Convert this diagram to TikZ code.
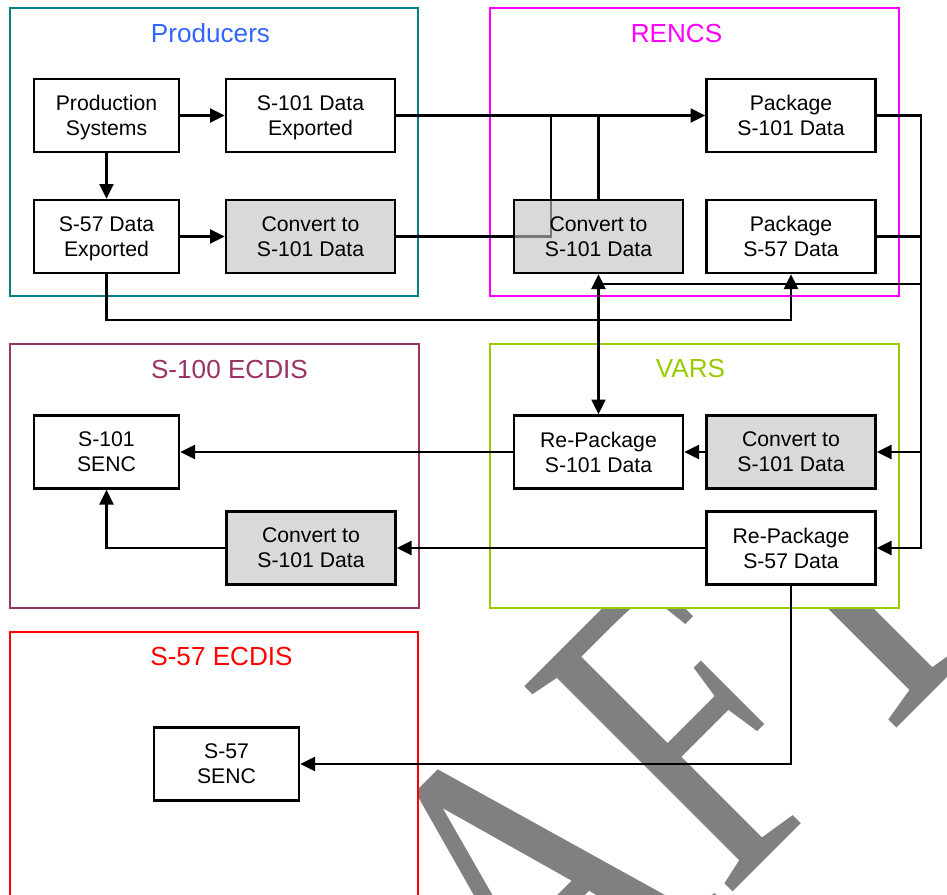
\documentclass[tikz,border=0pt]{standalone}
\usepackage{fontspec}
\setmainfont{Liberation Sans}
\newfontfamily\wmfont{Liberation Serif}
\usetikzlibrary{arrows.meta}
\pgfdeclarelayer{wm}
\pgfdeclarelayer{groups}
\pgfdeclarelayer{lines}
\pgfsetlayers{wm,groups,lines,main}
\definecolor{prodteal}{HTML}{008080}
\definecolor{prodblue}{HTML}{3366FF}
\definecolor{rencs}{HTML}{FF00FF}
\definecolor{ecdisA}{HTML}{993366}
\definecolor{vars}{HTML}{99CC00}
\definecolor{ecdisB}{HTML}{FF0000}
\definecolor{mark}{HTML}{808080}
\begin{document}
\begin{tikzpicture}[x=0.75pt,y=-0.75pt,
  box/.style={draw, line width=2pt, fill=white, minimum height=54.75pt,
    align=center, inner sep=2pt, text depth=0pt,
    font=\fontsize{15.9pt}{18.75pt}\selectfont},
  narrowbox/.style={box, minimum width=108.75pt},
  widebox/.style={box, minimum width=126.75pt},
  convbox/.style={widebox, fill=black!24, fill opacity=0.62, text opacity=1},
  group/.style={draw=#1, line width=1.75pt, fill=white},
  grouptitle/.style={text=#1, anchor=base, inner sep=0pt,
    font=\fontsize{19.6pt}{23pt}\selectfont},
  link/.style={line width=1.8pt},
  arr/.style={link, -{Triangle[length=11pt,width=10.5pt]}},
  arrboth/.style={link, {Triangle[length=11pt,width=10.5pt]}-{Triangle[length=11pt,width=10.5pt]}}
]
\useasboundingbox (0,0) rectangle (947,894);

% watermark
\begin{pgfonlayer}{wm}
  \begin{scope}
    \clip (0,0) rectangle (947,894);
    \node[text=mark, rotate=45, anchor=base, inner sep=0pt] (draft) at (610,1015)
      {\scalebox{0.77}[1]{\wmfont\fontsize{335pt}{335pt}\selectfont DRAFT}};
  \end{scope}
\end{pgfonlayer}

% group frames
\begin{pgfonlayer}{groups}
  \draw[group=prodteal] (10,8) rectangle (418,296);
  \draw[group=rencs] (490,8) rectangle (899,296);
  \draw[group=ecdisA] (10,344) rectangle (419,608);
  \draw[group=vars] (490,344) rectangle (899,608);
  \draw[group=ecdisB] (10,632) rectangle (418,920);
  \node[grouptitle=prodblue] (tprod) at (210.5,42) {Producers};
  \node[grouptitle=rencs] (trencs) at (676.5,42) {RENCS};
  \node[grouptitle=ecdisA] (tecdisA) at (229.5,378) {S-100 ECDIS};
  \node[grouptitle=vars] (tvars) at (690.5,377) {VARS};
  \node[grouptitle=ecdisB] (tecdisB) at (221.5,665) {S-57 ECDIS};
\end{pgfonlayer}

% process boxes
\node[narrowbox] (prod) at (106.5,115.5) {Production\\Systems};
\node[widebox] (s101exp) at (310.5,115.5) {S-101 Data\\Exported};
\node[narrowbox] (s57exp) at (106.5,236.5) {S-57 Data\\Exported};
\node[convbox] (convP) at (310.5,236.5) {Convert to\\S-101 Data};
\node[convbox] (convR) at (598.5,236.5) {Convert to\\S-101 Data};
\node[widebox] (pkg101) at (791,115.5) {Package\\S-101 Data};
\node[widebox] (pkg57) at (791,236.5) {Package\\S-57 Data};
\node[narrowbox] (senc101) at (106.5,452) {S-101\\SENC};
\node[convbox] (convE) at (311,548) {Convert to\\S-101 Data};
\node[widebox] (repkg101) at (598.5,452) {Re-Package\\S-101 Data};
\node[convbox] (convV) at (791,452) {Convert to\\S-101 Data};
\node[widebox] (repkg57) at (791,548) {Re-Package\\S-57 Data};
\node[narrowbox] (senc57) at (226.5,764) {S-57\\SENC};

% routing points
\coordinate (join) at (551,115.5);
\coordinate (rtop) at (921,115.5);
\coordinate (fb) at (921,284);
\coordinate (low) at (0,320);

% connectors
\begin{pgfonlayer}{lines}
  \draw[arr] (prod) -- (s101exp);
  \draw[arr] (prod) -- (s57exp);
  \draw[arr] (s57exp) -- (convP);
  \draw[arr] (s101exp) -- (pkg101);
  \draw[link] (convP.east) -| (join);
  \draw[link] (convR.north) -- (convR.north |- join);
  \draw[arr] (pkg101.east) -- (rtop) |- (repkg57.east);
  \draw[link] (pkg57.east) -- (pkg57.east -| rtop);
  \draw[arr] (convV.east -| rtop) -- (convV.east);
  \draw[link] (fb) -- (fb -| convR.south);
  \draw[arr] (s57exp.south) |- (low -| pkg57.south) -- (pkg57.south);
  \draw[arrboth] (convR.south) -- (repkg101.north);
  \draw[arr] (convV) -- (repkg101);
  \draw[arr] (repkg101) -- (senc101);
  \draw[arr] (repkg57) -- (convE);
  \draw[arr] (convE.west) -| (senc101.south);
  \draw[arr] (repkg57.south) |- (senc57.east);
\end{pgfonlayer}
\end{tikzpicture}
\end{document}
